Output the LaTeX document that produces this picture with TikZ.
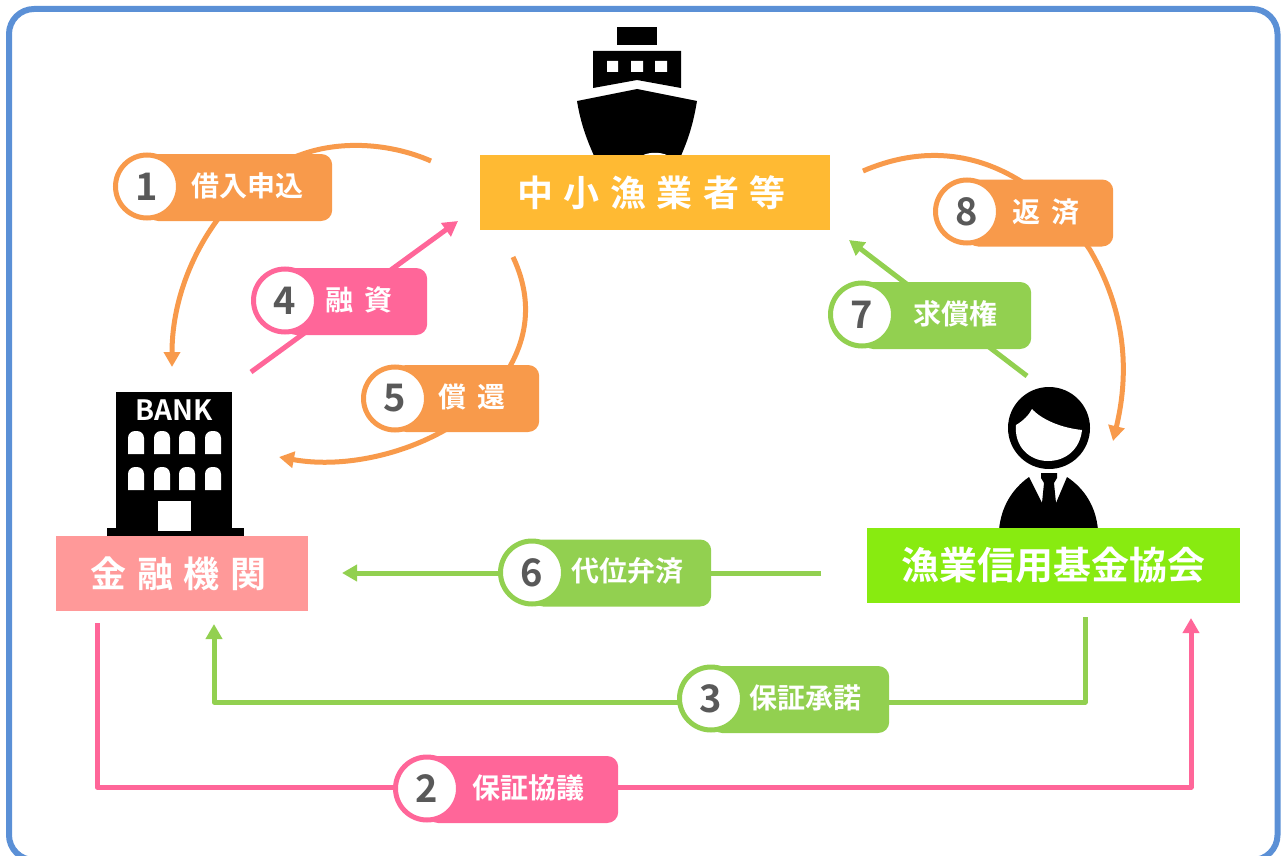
\documentclass[tikz,border=0pt]{standalone}
\usepackage{fontspec}
\usetikzlibrary{arrows.meta}
\newfontfamily\cjk[WordSpace=1.6]{Noto Sans CJK JP Bold}
\newfontfamily\cjkwide[LetterSpace=29]{Noto Sans CJK JP Bold}
\newcommand{\px}[1]{\fontsize{#1}{#1}\selectfont}
\definecolor{frameblue}{HTML}{5B90D6}
\definecolor{tagorange}{HTML}{F89A4B}
\definecolor{tagpink}{HTML}{FF6699}
\definecolor{taggreen}{HTML}{92D050}
\definecolor{boxyellow}{HTML}{FFBA33}
\definecolor{boxrose}{HTML}{FF9999}
\definecolor{boxlime}{HTML}{88EB10}
\definecolor{numgrey}{HTML}{595959}
\tikzset{
  actor/.style={minimum height=75pt,inner sep=0pt,text=white},
  tagbox/.style={anchor=west,minimum height=67pt,inner sep=0pt,rounded corners=11pt},
  tagnum/.style={circle,draw,fill=white,line width=5pt,minimum size=63pt,inner sep=0pt,
    text=numgrey,font=\cjk\px{38}},
  tagtext/.style={text=white,inner sep=0pt,font=\cjk\px{28}},
  flow/.style={line width=5pt,-{Triangle[length=15pt,width=16pt]}}
}
\begin{document}
\begin{tikzpicture}[x=1pt,y=-1pt]
\useasboundingbox (0,0) rectangle (1282,856);
%OUTER FRAME
\draw [frameblue,line width=6pt,rounded corners=25pt] (9,9) rectangle (1277.5,860);
%SHIP
\fill (617,27) rectangle (657,45);
\fill (593,51) -- (681,51) -- (681,88) -- (637,80) -- (593,88) -- cycle;
\fill [white] (607,61) rectangle (618,72) (631,61) rectangle (643,72) (655,61) rectangle (667,72);
\fill (637,89) -- (697,101) .. controls (693,125) and (688,140) .. (680,158) -- (595,158)
  .. controls (587,140) and (581,125) .. (577,101) -- cycle;
\fill [white] (639,158) .. controls (645,151) and (665,151) .. (671,158) -- cycle;
%BANK
\fill (116,392) rectangle (232,530);
\fill (107,528) rectangle (244,537);
\node [text=white,inner sep=0pt,font=\cjk\px{28}] (banksign) at (174,410) {BANK};
\foreach \wx in {128,154,179,205}
  \foreach \wy in {431,467}
    \fill [white,rounded corners=7pt] (\wx,\wy+23) -- (\wx,\wy) -- (\wx+16,\wy) [sharp corners] -- (\wx+16,\wy+23) -- cycle;
\fill [white] (158,501) rectangle (191,531);
%PERSON
\fill (1049,428) circle (41);
\fill [white] (1016,425) .. controls (1023,421) and (1029,415) .. (1032,409)
  .. controls (1042,420) and (1062,428) .. (1082,430)
  .. controls (1080,449) and (1066,461) .. (1048,461)
  .. controls (1029,461) and (1014,446) .. (1016,425) -- cycle;
\fill (1029,477) -- (1042,503) -- (1044,483) -- (1041,478) -- (1041,473) -- (1057,473)
  -- (1057,478) -- (1054,483) -- (1056,503) -- (1067,477)
  .. controls (1085,489) and (1096,507) .. (1098,530) -- (999,530)
  .. controls (1001,507) and (1012,489) .. (1029,477) -- cycle;
%MAIN BOXES
\node [actor,fill=boxyellow,minimum width=350pt] (fisher) at (655,192.5) {\raisebox{3.5pt}{\cjkwide\px{36}中小漁業者等\hspace*{7pt}}};
\node [actor,fill=boxrose,minimum width=252pt] (bank) at (182,573.5) {\raisebox{1.5pt}{\cjkwide\px{36}金融機関\hspace*{7pt}}};
\node [actor,fill=boxlime,minimum width=373pt] (fund) at (1053.5,565.5) {\raisebox{3pt}{\cjk\px{38}漁業信用基金協会}};
%CONNECTOR ENDS
\coordinate (a1) at (431,161);
\coordinate (m1) at (300,155);
\coordinate (b1) at (172,367);
\coordinate (a2) at (97,623);
\coordinate (c2) at (97,787);
\coordinate (d2) at (1191,787);
\coordinate (b2) at (1191,618);
\coordinate (a3) at (1085,617);
\coordinate (c3) at (1085,702);
\coordinate (d3) at (214,702);
\coordinate (b3) at (214,624);
\coordinate (a4) at (251,372);
\coordinate (b4) at (458,221);
\coordinate (a5) at (513,257);
\coordinate (m5) at (480,405);
\coordinate (b5) at (279,457);
\coordinate (a6) at (821,573);
\coordinate (b6) at (342,573);
\coordinate (a7) at (1027,376);
\coordinate (b7) at (849,240);
\coordinate (a8) at (863,171);
\coordinate (m8) at (1090,250);
\coordinate (b8) at (1113,441);
%ARROWS
\draw [flow,tagorange] (a1) .. controls (390,143) and (340,140) .. (m1) .. controls (232,178) and (172,265) .. (b1);
\draw [flow,tagpink,line join=round] (a2) -- (c2) -- (d2) -- (b2);
\draw [flow,taggreen,line join=round] (a3) -- (c3) -- (d3) -- (b3);
\draw [flow,tagpink] (a4) -- (b4);
\draw [flow,tagorange] (a5) .. controls (538,310) and (525,360) .. (m5) .. controls (430,450) and (350,470) .. (b5);
\draw [flow,taggreen] (a6) -- (b6);
\draw [flow,taggreen] (a7) -- (b7);
\draw [flow,tagorange] (a8) .. controls (970,125) and (1050,190) .. (m8) .. controls (1125,310) and (1130,370) .. (b8);
%TAG 1
\node [tagbox,fill=tagorange,minimum width=185pt] (box1) at (147,187.5) {};
\node [tagnum,draw=tagorange] (num1) at (147,186.5) {1};
\node [tagtext] (txt1) at (247,186) {借入申込};
%TAG 2
\node [tagbox,fill=tagpink,minimum width=191pt] (box2) at (427,789.5) {};
\node [tagnum,draw=tagpink] (num2) at (427,788.5) {2};
\node [tagtext] (txt2) at (528,788) {保証協議};
%TAG 3
\node [tagbox,fill=taggreen,minimum width=178pt] (box3) at (711,699.5) {};
\node [tagnum,draw=taggreen] (num3) at (711,698.5) {3};
\node [tagtext] (txt3) at (805,698) {保証承諾};
%TAG 4
\node [tagbox,fill=tagpink,minimum width=142pt] (box4) at (285,301.5) {};
\node [tagnum,draw=tagpink] (num4) at (285,300.5) {4};
\node [tagtext] (txt4) at (359,300) {融 資};
%TAG 5
\node [tagbox,fill=tagorange,minimum width=144pt] (box5) at (395,398.5) {};
\node [tagnum,draw=tagorange] (num5) at (395,398.5) {5};
\node [tagtext] (txt5) at (472,397) {償 還};
%TAG 6
\node [tagbox,fill=taggreen,minimum width=179pt] (box6) at (532,573) {};
\node [tagnum,draw=taggreen] (num6) at (532,572.5) {6};
\node [tagtext] (txt6) at (627,571) {代位弁済};
%TAG 7
\node [tagbox,fill=taggreen,minimum width=169pt] (box7) at (862,315.5) {};
\node [tagnum,draw=taggreen] (num7) at (862,314.5) {7};
\node [tagtext] (txt7) at (955,314) {求償権};
%TAG 8
\node [tagbox,fill=tagorange,minimum width=146pt] (box8) at (967,213) {};
\node [tagnum,draw=tagorange] (num8) at (967,211.5) {8};
\node [tagtext] (txt8) at (1046,212) {返 済};
\end{tikzpicture}
\end{document}
